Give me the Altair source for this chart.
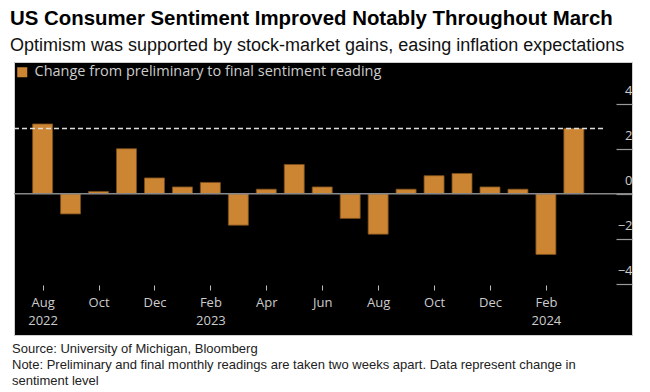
import json
import altair as alt
import pandas as pd

months = ["Aug", "Sep", "Oct", "Nov", "Dec", "Jan", "Feb", "Mar", "Apr", "May",
          "Jun", "Jul", "Aug", "Sep", "Oct", "Nov", "Dec", "Jan", "Feb", "Mar"]
years = ["2022"] * 5 + ["2023"] * 12 + ["2024"] * 3
values = [3.1, -0.9, 0.1, 2.0, 0.7, 0.3, 0.5, -1.4, 0.2, 1.3,
          0.3, -1.1, -1.8, 0.2, 0.8, 0.9, 0.3, 0.2, -2.7, 2.9]
series_name = "Change from preliminary to final sentiment reading"
y_ticks = [-4, -2, 0, 2, 4]
footer_lines = [
    "Source: University of Michigan, Bloomberg",
    "Note: Preliminary and final monthly readings are taken two weeks apart. Data represent change in",
    "sentiment level",
]

df = pd.DataFrame({
    "idx": list(range(len(values))),
    "month": months,
    "year": years,
    "value": values,
    "series": [series_name] * len(values),
})

labels = []
for i, (m, yv) in enumerate(zip(months, years)):
    if i == 0 or m == "Feb":
        labels.append([m, yv])
    else:
        labels.append(m)
label_expr = json.dumps(labels) + "[datum.value]"

W, H = 618, 273
x_scale = alt.Scale(domain=[-0.8444, 20.90], nice=False, zero=False)
y_scale = alt.Scale(domain=[-6.28, 5.853], nice=False, zero=False)

axis_font = "Open Sans"

bars = alt.Chart(df).mark_bar(size=20, stroke="#7a4e1c", strokeWidth=0.8).encode(
    x=alt.X("idx:Q", scale=x_scale, title=None,
            axis=alt.Axis(values=list(range(0, 20, 2)), labelExpr=label_expr,
                          orient="bottom", offset=-50, tickSize=5, tickColor="#bbbbbb",
                          tickWidth=1, domain=False, grid=False, labelColor="#cccccc",
                          labelFont=axis_font, labelFontSize=13, labelPadding=6,
                          labelLineHeight=18, labelFlush=False, labelOverlap=False)),
    y=alt.Y("value:Q", scale=y_scale, title=None,
            axis=alt.Axis(values=y_ticks, orient="right", offset=-16, tickSize=16,
                          tickColor="#999999", tickWidth=1.2, domain=False, grid=False,
                          labelColor="#cccccc", labelFont=axis_font, labelFontSize=13,
                          labelAlign="right", labelBaseline="alphabetic", labelPadding=0,
                          labelOffset=-9, labelFlush=False, labelOverlap=False)),
    color=alt.Color("series:N", scale=alt.Scale(range=["#cc8533"]),
                    legend=alt.Legend(title=None, orient="none", legendX=1, legendY=3,
                                      padding=0, symbolType="square", symbolSize=100,
                                      symbolStrokeWidth=0, labelColor="#cccccc",
                                      labelFont=axis_font, labelFontSize=14.5,
                                      labelOffset=5, labelLimit=600)),
)

zero = alt.Chart(pd.DataFrame({"y": [0]})).mark_rule(color="#888888", strokeWidth=1.5).encode(
    y=alt.Y("y:Q", scale=y_scale)
)

last = pd.DataFrame({"y": [values[-1]]})
dashed = alt.Chart(last).mark_rule(color="#dddddd", strokeWidth=1.6, strokeDash=[5, 3]).encode(
    y=alt.Y("y:Q", scale=y_scale),
    x=alt.value(0),
    x2=alt.value(589),
)

footer = alt.Chart(pd.DataFrame({"t": ["\n".join(footer_lines)]})).mark_text(
    align="left", baseline="alphabetic", font="Liberation Sans", fontSize=13,
    color="#222222", lineBreak="\n", lineHeight=16
).encode(
    text="t:N",
    x=alt.value(-2),
    y=alt.value(291),
)

chart = alt.layer(bars, zero, dashed, footer).properties(
    width=W, height=H,
    autosize=alt.AutoSizeParams(type="none"),
    padding={"left": 6, "top": 54, "right": 2, "bottom": 55},
    background="white",
    title=alt.TitleParams(
        text="US Consumer Sentiment Improved Notably Throughout March",
        subtitle="Optimism was supported by stock-market gains, easing inflation expectations",
        anchor="start", font="Liberation Sans", fontSize=20.4, fontWeight="bold",
        color="#000000", subtitleFont="Liberation Sans", subtitleFontSize=18,
        subtitleColor="#111111", subtitlePadding=8, offset=7, dx=-2,
    ),
).configure_view(fill="black", stroke="#cfcfcf", strokeWidth=1)

chart.save("out.html", embed_options={"renderer": "svg", "actions": False})
